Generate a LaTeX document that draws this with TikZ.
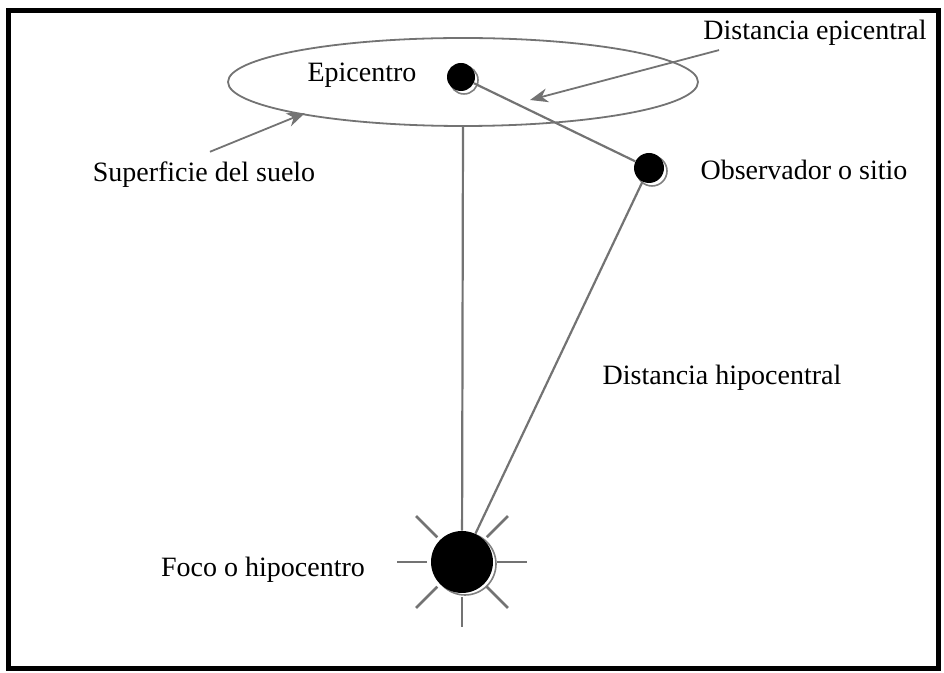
\documentclass[tikz,border=0pt]{standalone}
\usepackage{fontspec}
\setmainfont{Liberation Serif}
\usetikzlibrary{shapes.geometric,arrows.meta}
\tikzset{
  punto/.style={circle,fill=black,inner sep=0pt,minimum size=#1},
  sombra/.style={circle,draw=gray,line width=0.8pt,inner sep=0pt,minimum size=#1},
  linea/.style={draw=gray!90!black,line width=1.1pt},
  flecha/.style={linea,line width=0.9pt,-{Stealth[length=9pt,width=7pt]}},
  etiqueta/.style={font=\fontsize{14}{16}\selectfont,inner sep=0pt}
}
\begin{document}
\begin{tikzpicture}[x=0.5pt,y=-0.5pt]
  \useasboundingbox (0,0) rectangle (944,673);
  \draw[line width=2.5pt] (8,11) rectangle (938,669);
  % superficie y puntos
  \node[ellipse,linea,line width=0.9pt,minimum width=235pt,minimum height=44pt] (suelo) at (463,82) {};
  \node[sombra=14pt] at (464,80) {};
  \node[punto=14pt] (epi) at (461,77) {};
  \node[sombra=15pt] at (652,171) {};
  \node[punto=15pt] (obs) at (649,168) {};
  \node[sombra=31pt] at (465,564) {};
  \node[punto=31pt] (foco) at (462,562) {};
  \draw[linea] (epi) -- (obs);
  \draw[linea] (suelo.south) -- (foco);
  \draw[linea] (obs) -- (foco);
  \foreach \a in {0,45,90,135,180,225,315}
    \draw[linea,line width=1.3pt] (foco.center) ++(\a:35) -- ++(\a:30);
  % etiquetas
  \node[etiqueta] (lepi) at (362,75) {Epicentro};
  \node[etiqueta] (ldist) at (815,33) {Distancia epicentral};
  \node[etiqueta] (lsup) at (204,175) {Superficie del suelo};
  \node[etiqueta] (lobs) at (804,170) {Observador o sitio};
  \node[etiqueta] (lhipo) at (722,378) {Distancia hipocentral};
  \node[etiqueta] (lfoco) at (263,570) {Foco o hipocentro};
  \coordinate (pdist) at (530,100);
  \coordinate (psup) at (305,113);
  \draw[flecha] ([xshift=8pt,yshift=-2pt]ldist.south west) -- (pdist);
  \draw[flecha] ([xshift=3pt,yshift=5pt]lsup.north) -- (psup);
\end{tikzpicture}
\end{document}
